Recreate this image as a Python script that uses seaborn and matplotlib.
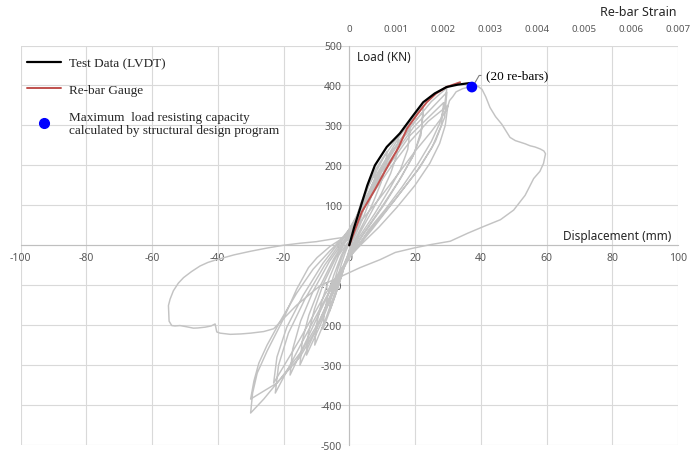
import numpy as np
import matplotlib
matplotlib.use("Agg")
import matplotlib.pyplot as plt
import matplotlib.transforms as mtransforms
from matplotlib.lines import Line2D
import seaborn as sns

# ---------------------------------------------------------------------------
# Axis ticks
x_ticks = [-100, -80, -60, -40, -20, 0, 20, 40, 60, 80, 100]
y_ticks = [-500, -400, -300, -200, -100, 0, 100, 200, 300, 400, 500]
strain_ticks = [0, 0.001, 0.002, 0.003, 0.004, 0.005, 0.006, 0.007]
strain_labels = ["0", "0.001", "0.002", "0.003", "0.004", "0.005", "0.006", "0.007"]

# Test data envelope (LVDT), displacement in mm, load in kN
lvdt_disp = [0, 1.5, 3.3, 5.5, 7.8, 11.4, 15.4, 19.0, 22.5, 26.0, 29.6, 33.0, 36.7]
lvdt_load = [0, 45, 92, 150, 200, 246, 280, 320, 358, 380, 396, 402, 406]

# Re-bar gauge reading (strain) against load
gauge_strain = [0, 0.000266, 0.00055, 0.00083, 0.00105, 0.00123, 0.00145,
                0.00165, 0.00185, 0.00207, 0.00236]
gauge_load = [0, 83, 140, 200, 245, 292, 328, 358, 380, 396, 408]

# Maximum capacity from the design program
design_disp = [37.3]
design_load = [396]

# Cyclic load history (displacement in mm, load in kN), one list pair per cycle
cyc1_disp = [0, 1, 2.2, 3.6, 5, 4.7, 4, 3, 1.8, 0.6, -0.5, -1.6, -2.8, -4, -3.8, -3.2, -2.3, -1.2, 0]
cyc1_load = [0, 35, 70, 100, 120, 100, 80, 55, 30, 5, -25, -55, -85, -110, -92, -70, -45, -18, 5]
cyc2_disp = [0, 1.5, 3.5, 5.8, 8, 7.6, 6.6, 5, 3, 1, -0.8, -2.5, -4.2, -6, -5.7, -4.9, -3.5, -1.8, 0]
cyc2_load = [5, 50, 105, 150, 185, 155, 120, 85, 45, 10, -35, -80, -125, -165, -135, -100, -60, -20, 8]
cyc3_disp = [0, 2, 4.8, 8, 11.5, 11, 9.6, 7.4, 4.6, 1.8, -0.8, -3, -5.5, -8, -7.6, -6.5, -4.7, -2.4, 0]
cyc3_load = [8, 60, 130, 190, 235, 195, 155, 110, 60, 15, -35, -95, -155, -210, -170, -125, -75, -25, 10]
cyc4_disp = [0, 2.5, 6, 10.5, 15, 14.4, 12.6, 9.8, 6.2, 2.5, -1, -4, -7.2, -10.5, -10, -8.5, -6.2, -3.2, 0]
cyc4_load = [10, 70, 150, 220, 275, 225, 180, 130, 75, 20, -40, -110, -185, -250, -200, -145, -85, -25, 12]
cyc5_disp = [-0.5, 3, 7.5, 13, 18.5, 17.8, 15.6, 12.2, 7.8, 3, -1, -4.8, -8.8, -13, -12.4, -10.6, -7.8, -4, -0.8]
cyc5_load = [12, 75, 160, 235, 290, 240, 190, 140, 80, 20, -40, -115, -200, -275, -220, -160, -95, -30, 12]
cyc6_disp = [-1, 3, 8.5, 15.5, 22.5, 21.8, 19.2, 15, 9.8, 4, -1, -5.5, -10, -15, -14.3, -12.3, -9, -4.8, -1.2]
cyc6_load = [12, 80, 175, 265, 335, 275, 220, 160, 95, 25, -40, -120, -210, -300, -240, -175, -105, -35, 13]
cyc7_disp = [-1.2, 3, 8.5, 15.5, 22.5, 22, 19.8, 15.8, 10.5, 4.5, -1, -6.5, -12, -18, -17.2, -14.8, -11, -6, -1.5]
cyc7_load = [13, 80, 180, 275, 350, 290, 230, 170, 100, 30, -40, -125, -220, -325, -260, -190, -115, -40, 13]
cyc8_disp = [-1.5, 3, 9.5, 18.5, 28.7, 28, 25.2, 20.5, 14, 6.5, -0.5, -7, -14.5, -22.5, -21.5, -18.5, -13.5, -7.5, -2]
cyc8_load = [13, 75, 170, 275, 357, 300, 245, 185, 115, 40, -35, -130, -245, -370, -300, -220, -135, -50, 14]
cyc9_disp = [-2, 3, 10, 19.5, 29.7, 29, 26.2, 21.5, 14.5, 7, -0.5, -7.5, -15, -23, -22, -19, -14, -8, -2.5]
cyc9_load = [14, 80, 185, 295, 383, 320, 260, 195, 120, 40, -35, -125, -235, -345, -280, -205, -125, -45, 14]
cyc10_disp = [-2.5, 0, 3, 6, 10, 15, 20, 25, 29.7, 29, 27.5, 25, 21, 16, 11, 6, 2, -1, -3, -6,
              -10, -15, -22, -30, -29, -27.5, -25, -21, -16, -11, -6, -2.5]
cyc10_load = [14, 40, 85, 130, 190, 255, 310, 360, 394, 350, 305, 260, 205, 145, 90, 40, -10, -35, -80, -140,
              -210, -280, -345, -385, -340, -295, -250, -190, -120, -60, -15, 14]
cyc11_disp = [-2.5, 0.5, 4, 8, 13, 18.5, 24, 30, 29.2, 27.5, 24.5, 20, 14.5, 9, 4, 0.5, -2.5, -5.5,
              -9.5, -14.5, -21, -26, -30, -29.4, -28, -25, -20, -16, -12.4, -9.8, -5.8, -2.7]
cyc11_load = [14, 40, 85, 140, 200, 260, 310, 350, 300, 255, 205, 150, 95, 45, 5, -25, -70, -125,
              -195, -265, -335, -385, -420, -370, -320, -265, -184, -110, -56, -31, -2.5, 14]

# Final push past the peak, unloading and the large reversed excursion
final_disp = [-2.7, 0, 4, 9, 15, 20, 25, 28, 29.7, 30.5, 31.5, 32.5, 33.5, 34.5, 35.5, 37.0,
              38.5, 40.4, 41.5, 42.8, 44.5, 46.4, 48.9, 50.5, 52, 53.5, 55, 56.5, 58.1,
              59.2, 59.7, 59.1, 58.0, 56.1, 53.5, 50.0, 46.0, 40.9, 36.0, 30.7, 25.0,
              19.6, 14.0, 9.4, 3.3, -3.0, -9.0, -16.0, -23.0, -26.0, -30.0, -33.0, -36.2,
              -39.3, -40.3, -40.8, -42.0, -43.8, -46.0, -47.4, -49.5, -51.5, -53.0, -54.0,
              -54.8, -55.0, -54.5, -53.5, -52.0, -50.4, -48.0, -45.4, -43.0, -40.3, -35.0,
              -30.0, -25.0, -20.0, -15.0, -10.0, -4.8, 0.3]
final_load = [14, 30, 65, 115, 180, 235, 285, 318, 340, 362, 372, 384, 388, 392, 394, 400,
              402, 390, 372, 345, 322, 303, 270, 262, 258, 254, 249, 246, 241,
              236, 229, 205, 185, 167, 125, 88, 64, 47, 30, 10, 2,
              -7, -18, -36, -56, -80, -102, -150, -209, -216, -220, -222, -223,
              -220, -217, -197, -202, -205, -207, -207.5, -204, -201, -202, -201,
              -190, -151, -135, -114, -95, -81, -66, -52, -43, -36, -24,
              -15, -7, 0, 5, 9, 16, 22]

cycles_disp = [cyc1_disp, cyc2_disp, cyc3_disp, cyc4_disp, cyc5_disp, cyc6_disp,
               cyc7_disp, cyc8_disp, cyc9_disp, cyc10_disp, cyc11_disp, final_disp]
cycles_load = [cyc1_load, cyc2_load, cyc3_load, cyc4_load, cyc5_load, cyc6_load,
               cyc7_load, cyc8_load, cyc9_load, cyc10_load, cyc11_load, final_load]
history_disp = np.concatenate([np.asarray(c, float) for c in cycles_disp])
history_load = np.concatenate([np.asarray(c, float) for c in cycles_load])

# ---------------------------------------------------------------------------
sns.set_theme(style="white")
plt.rcParams["font.family"] = ["Noto Sans", "DejaVu Sans"]

tick_color = "#595959"
grid_color = "#d9d9d9"

fig = plt.figure(figsize=(6.91, 4.52), dpi=100)
ax = fig.add_axes([20.5 / 691, 6 / 452, 657.5 / 691, 399.5 / 452])
ax2 = ax.twiny()

ax.set_xlim(-100, 100)
ax.set_ylim(-500, 500)
ax2.set_xlim(-0.007, 0.007)

# cyclic history in grey
sns.lineplot(x=history_disp, y=history_load, sort=False, estimator=None,
             color="#c3c3c3", lw=1.05, ax=ax, zorder=3)
# LVDT envelope
sns.lineplot(x=lvdt_disp, y=lvdt_load, sort=False, estimator=None,
             color="black", lw=1.6, ax=ax, zorder=5)
# re-bar gauge: strain on the top axis, load on the shared vertical axis
strain_tr = mtransforms.blended_transform_factory(ax2.transData, ax.transData)
sns.lineplot(x=gauge_strain, y=gauge_load, sort=False, estimator=None,
             color="#c0504d", lw=1.4, ax=ax, zorder=4, transform=strain_tr)
# design capacity
sns.scatterplot(x=design_disp, y=design_load, color="#0000ff", s=60,
                edgecolor="none", ax=ax, zorder=6)

ax.set_xlim(-100, 100)
ax.set_ylim(-500, 500)
ax.set_xlabel("")
ax.set_ylabel("")

# grid and axes crossing at the origin
ax.set_xticks(x_ticks)
ax.set_yticks(y_ticks)
ax.set_xticklabels([str(v) for v in x_ticks])
ax.set_yticklabels([str(v) for v in y_ticks])
ax.grid(True, color=grid_color, lw=0.8, zorder=0)
ax.set_axisbelow(True)
for side in ("top", "right"):
    ax.spines[side].set_visible(False)
ax.spines["left"].set_position(("data", 0))
ax.spines["bottom"].set_position(("data", 0))
for side in ("left", "bottom"):
    ax.spines[side].set_color("#bfbfbf")
    ax.spines[side].set_linewidth(0.8)
ax.tick_params(axis="both", length=0, labelsize=7.5, colors=tick_color)
ax.tick_params(axis="x", pad=5)
ax.tick_params(axis="y", pad=5)

# strain axis on top
ax2.set_xticks(strain_ticks)
ax2.set_xticklabels(strain_labels)
ax2.tick_params(axis="x", length=0, labelsize=7, colors=tick_color, pad=9)
for s in ax2.spines.values():
    s.set_visible(False)
ax2.grid(False)

# axis titles
ax.text(2.4, 472, "Load (KN)", fontsize=8.5, color="#262626", va="center", ha="left")
ax.text(98, 25, "Displacement (mm)", fontsize=8.5, color="#262626", va="center", ha="right")
fig.text(676 / 691, 1 - 12 / 452, "Re-bar Strain", fontsize=9, color="#262626",
         va="center", ha="right")

# annotation for the design capacity point
ax.annotate("(20 re-bars)", xy=(design_disp[0] + 0.6, design_load[0] + 6), xytext=(41.5, 425),
            fontsize=9.5, family="Liberation Serif", color="black", va="center", ha="left",
            arrowprops=dict(arrowstyle="-", color="#7f7f7f", lw=0.8, shrinkA=1, shrinkB=0,
                            connectionstyle="angle,angleA=0,angleB=60,rad=0"))

# legend
handles = [
    Line2D([], [], color="black", lw=1.6),
    Line2D([], [], color="#c0504d", lw=1.4),
    Line2D([], [], color="#0000ff", marker="o", ls="none", markersize=7),
]
labels = ["Test Data (LVDT)", "Re-bar Gauge",
          "Maximum  load resisting capacity\ncalculated by structural design program"]
ax.legend(handles, labels, loc="upper left", bbox_to_anchor=(27 / 691, 1 - 58 / 452),
          bbox_transform=fig.transFigure, frameon=False,
          prop={"family": "Liberation Serif", "size": 9.5},
          handlelength=2.6, handletextpad=0.55, labelspacing=1.1,
          borderpad=0, borderaxespad=0)

fig.savefig("out.png", dpi=100)
